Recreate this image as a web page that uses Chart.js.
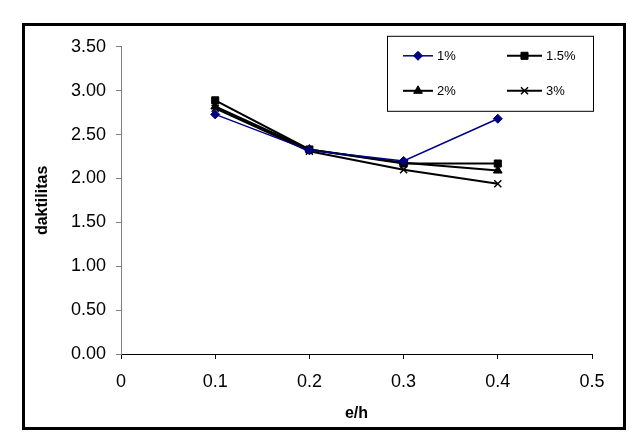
<!DOCTYPE html>
<html>
<head>
<meta charset="utf-8">
<script src="https://cdn.jsdelivr.net/npm/chart.js@4/dist/chart.umd.min.js"></script>
<style>
    body { margin: 0; background: #fff; }
    #frame {
        position: absolute; left: 22px; top: 23px;
        width: 604px; height: 407px;
        box-sizing: border-box; border: 3px solid #000; background: #fff;
    }
    #frame canvas { display: block; }
</style>
</head>
<body>
<div id="frame"><canvas id="ductilityChart" width="598" height="401"></canvas></div>
<script>
// e/h values and ductility per reinforcement ratio
const ehValues = [0.1, 0.2, 0.3, 0.4];
const seriesLabels = ["1%", "1.5%", "2%", "3%"];
const duct1 = [2.73, 2.32, 2.20, 2.68];
const duct15 = [2.89, 2.33, 2.17, 2.17];
const duct2 = [2.82, 2.33, 2.18, 2.09];
const duct3 = [2.80, 2.31, 2.10, 1.94];
const yTicks = [0, 0.5, 1, 1.5, 2, 2.5, 3, 3.5];
const xTicks = [0, 0.1, 0.2, 0.3, 0.4, 0.5];

const FONT = "'Liberation Sans', Arial, sans-serif";

function toPoints(vals) {
    return ehValues.map((x, i) => ({ x: x, y: vals[i] }));
}

// legend drawn inside the plot, top right, like the Excel one
const boxLegend = {
    id: "boxLegend",
    afterDraw(chart) {
        const ctx = chart.ctx;
        const a = chart.chartArea;
        const left = a.right - 205, top = a.top - 11, w = 206, h = 75;
        ctx.save();
        ctx.fillStyle = "#fff";
        ctx.fillRect(left, top, w, h);
        ctx.strokeStyle = "#000";
        ctx.lineWidth = 1;
        ctx.strokeRect(left + 0.5, top + 0.5, w, h);
        const cols = [left + 16, left + 120];
        const rows = [top + 20, top + 55];
        chart.data.datasets.forEach((ds, i) => {
            const x0 = cols[i % 2], y0 = rows[Math.floor(i / 2)];
            const len = i % 2 ? 35 : 30;
            ctx.strokeStyle = ds.borderColor;
            ctx.lineWidth = ds.borderWidth;
            ctx.beginPath();
            ctx.moveTo(x0, y0);
            ctx.lineTo(x0 + len, y0);
            ctx.stroke();
            ctx.fillStyle = ds.backgroundColor;
            ctx.lineWidth = ds.pointBorderWidth || 1;
            Chart.helpers.drawPoint(ctx, {
                pointStyle: ds.pointStyle,
                radius: ds.pointRadius,
                borderWidth: ds.pointBorderWidth || 1
            }, x0 + len / 2, y0);
            ctx.fillStyle = "#000";
            ctx.font = "13px " + FONT;
            ctx.textBaseline = "middle";
            ctx.fillText(ds.label, x0 + len + 4, y0 + 1);
        });
        ctx.restore();
    }
};

const ctx = document.getElementById("ductilityChart").getContext("2d");
new Chart(ctx, {
    type: "line",
    data: {
        datasets: [{
            label: seriesLabels[0],
            data: toPoints(duct1),
            borderColor: "#000080",
            backgroundColor: "#000080",
            borderWidth: 1.5,
            pointStyle: "rectRot",
            pointRadius: 4.5,
            pointBorderWidth: 1
        }, {
            label: seriesLabels[1],
            data: toPoints(duct15),
            borderColor: "#000",
            backgroundColor: "#000",
            borderWidth: 2,
            pointStyle: "rect",
            pointRadius: 5,
            pointBorderWidth: 1
        }, {
            label: seriesLabels[2],
            data: toPoints(duct2),
            borderColor: "#000",
            backgroundColor: "#000",
            borderWidth: 2,
            pointStyle: "triangle",
            pointRadius: 5,
            pointBorderWidth: 1
        }, {
            label: seriesLabels[3],
            data: toPoints(duct3),
            borderColor: "#000",
            backgroundColor: "#000",
            borderWidth: 2,
            pointStyle: "crossRot",
            pointRadius: 5,
            pointBorderWidth: 1.5
        }]
    },
    options: {
        responsive: false,
        animation: false,
        layout: { padding: { top: 20, right: 31, left: 0, bottom: 0 } },
        plugins: {
            legend: { display: false },
            tooltip: { enabled: false }
        },
        scales: {
            x: {
                type: "linear",
                min: 0,
                max: 0.5,
                afterBuildTicks: s => { s.ticks = xTicks.map(v => ({ value: v })); },
                afterFit: s => { s.height = 73; },
                grid: { drawOnChartArea: false, drawTicks: true, tickLength: 5, color: "#000" },
                border: { color: "#000", width: 1 },
                ticks: {
                    color: "#000",
                    padding: 12,
                    font: { family: FONT, size: 18 },
                    callback: v => v === 0 ? "0" : v.toFixed(1)
                },
                title: {
                    display: true,
                    text: "e/h",
                    color: "#000",
                    font: { family: FONT, size: 16, weight: "bold" },
                    padding: { top: 2 }
                }
            },
            y: {
                min: 0,
                max: 3.5,
                afterBuildTicks: s => { s.ticks = yTicks.map(v => ({ value: v })); },
                afterFit: s => { s.width = 96; },
                grid: { drawOnChartArea: false, drawTicks: true, tickLength: 5, color: "#808080" },
                border: { color: "#808080", width: 1 },
                ticks: {
                    color: "#000",
                    padding: 10,
                    font: { family: FONT, size: 18 },
                    callback: v => v.toFixed(2)
                },
                title: {
                    display: true,
                    text: "daktilitas",
                    color: "#000",
                    font: { family: FONT, size: 16, weight: "bold" },
                    padding: { top: 8, bottom: 0 }
                }
            }
        }
    },
    plugins: [boxLegend]
});
</script>
</body>
</html>
